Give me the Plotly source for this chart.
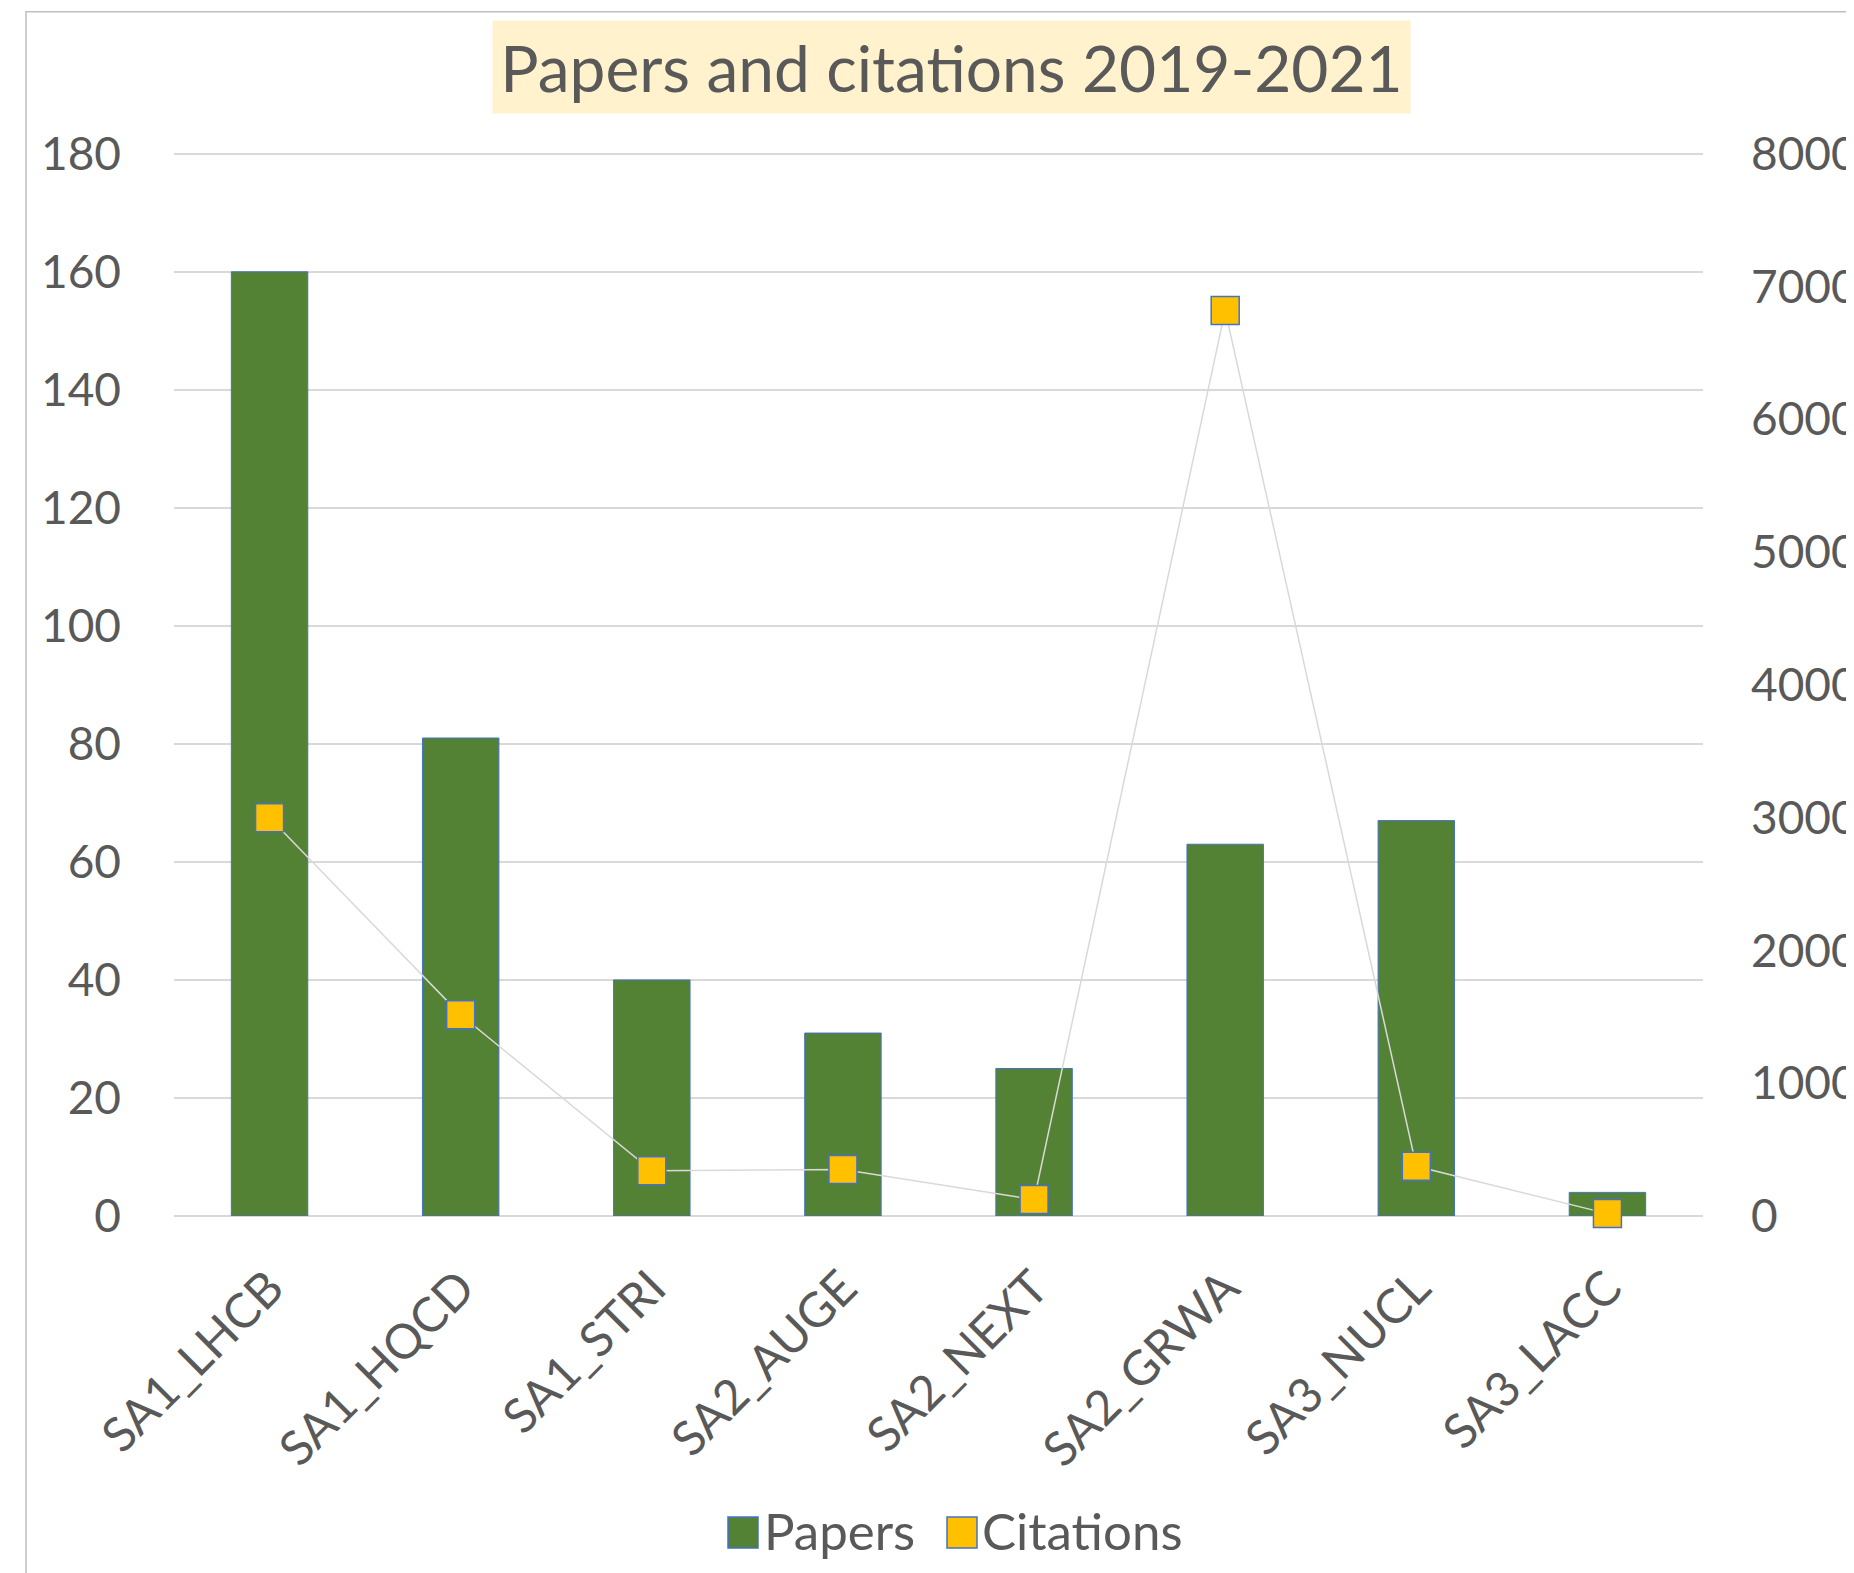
import plotly.graph_objects as go

categories = ["SA1_LHCB", "SA1_HQCD", "SA1_STRI", "SA2_AUGE", "SA2_NEXT", "SA2_GRWA", "SA3_NUCL", "SA3_LACC"]
papers = [160, 81, 40, 31, 25, 63, 67, 4]
citations = [3000, 1515, 340, 350, 124, 6820, 374, 18]
left_ticks = list(range(0, 181, 20))
right_ticks = list(range(0, 8001, 1000))

W, H = 1854, 1573
OFF = 8  # page body margin offset
# target page coordinates of plot area
P_L, P_R, P_T, P_B = 174, 1703, 154, 1216
Y_TOP = 180.3  # small headroom so the 180 gridline is drawn
top_px = P_B - (P_B - P_T) * Y_TOP / 180.0
ML = P_L - OFF
MR = W - (P_R - OFF)
MT = top_px - OFF
MB = H - (P_B - OFF)
PW, PH = W - ML - MR, H - MT - MB


def px(x):
    # page x -> paper x
    return (x - OFF - ML) / PW


def py(y):
    # page y -> paper y
    return (H - MB - (y - OFF)) / PH


TEXT = "#595959"
FONT = "Lato"
GREEN = "#548235"
GOLD = "#FFC000"
BLUE = "#4472C4"
GRID = "#D9D9D9"

fig = go.Figure()
fig.add_trace(go.Bar(
    x=categories, y=papers, name="Papers",
    marker=dict(color=GREEN, line=dict(color=BLUE, width=1)),
    showlegend=False,
))
fig.add_trace(go.Scatter(
    x=categories, y=citations, name="Citations", yaxis="y2",
    mode="lines+markers", cliponaxis=False,
    line=dict(color=GRID, width=1.5),
    marker=dict(symbol="square", size=28, color=GOLD, line=dict(color=BLUE, width=1.5)),
    showlegend=False,
))

fig.update_layout(
    width=W, height=H,
    margin=dict(l=ML, r=MR, t=MT, b=MB, autoexpand=False),
    paper_bgcolor="white", plot_bgcolor="white",
    bargap=0.6,
    font=dict(family=FONT, color=TEXT, size=46),
    xaxis=dict(
        range=[-0.5, 7.5], tickangle=-45, showgrid=False, showline=False,
        zeroline=False, ticks="", tickfont=dict(size=48, color=TEXT, family=FONT),
        ticklabelstandoff=33,
    ),
    yaxis=dict(
        range=[0, Y_TOP], tickvals=left_ticks, showgrid=True, gridcolor=GRID, gridwidth=1.5,
        zeroline=True, zerolinecolor=GRID, zerolinewidth=1.5, showline=False, ticks="",
        tickfont=dict(size=46, color=TEXT, family=FONT), ticklabelstandoff=52,
    ),
    yaxis2=dict(
        range=[0, 8000 * Y_TOP / 180.0], tickvals=right_ticks, overlaying="y", side="right",
        showgrid=False, zeroline=False, showline=False, ticks="",
        tickfont=dict(size=46, color=TEXT, family=FONT), ticklabelstandoff=47,
    ),
)

# chart-area border (top and left edges visible)
fig.add_shape(type="rect", xref="paper", yref="paper",
              x0=px(26), x1=px(1950), y0=py(1700), y1=py(12),
              line=dict(color="#BFBFBF", width=1.5), fillcolor="rgba(0,0,0,0)", layer="below")

# title with background box
fig.add_annotation(
    text="Papers and citations 2019-2021", xref="paper", yref="paper",
    x=px(951), y=py(67), xanchor="center", yanchor="middle",
    showarrow=False, width=917, height=92, borderpad=0,
    bgcolor="#FFF2CC", font=dict(family=FONT, size=64, color=TEXT),
)

# legend
legend_items = [("Papers", GREEN, 728, 762), ("Citations", GOLD, 947, 980)]
for label, col, sx, tx in legend_items:
    fig.add_shape(type="rect", xref="paper", yref="paper",
                  x0=px(sx), x1=px(sx + 30), y0=py(1548), y1=py(1517),
                  line=dict(color=BLUE, width=1.5), fillcolor=col)
    fig.add_annotation(text=label, xref="paper", yref="paper",
                       x=px(tx), y=py(1530), xanchor="left", yanchor="middle",
                       showarrow=False, font=dict(family=FONT, size=51, color=TEXT))

fig.write_html("out.html")
